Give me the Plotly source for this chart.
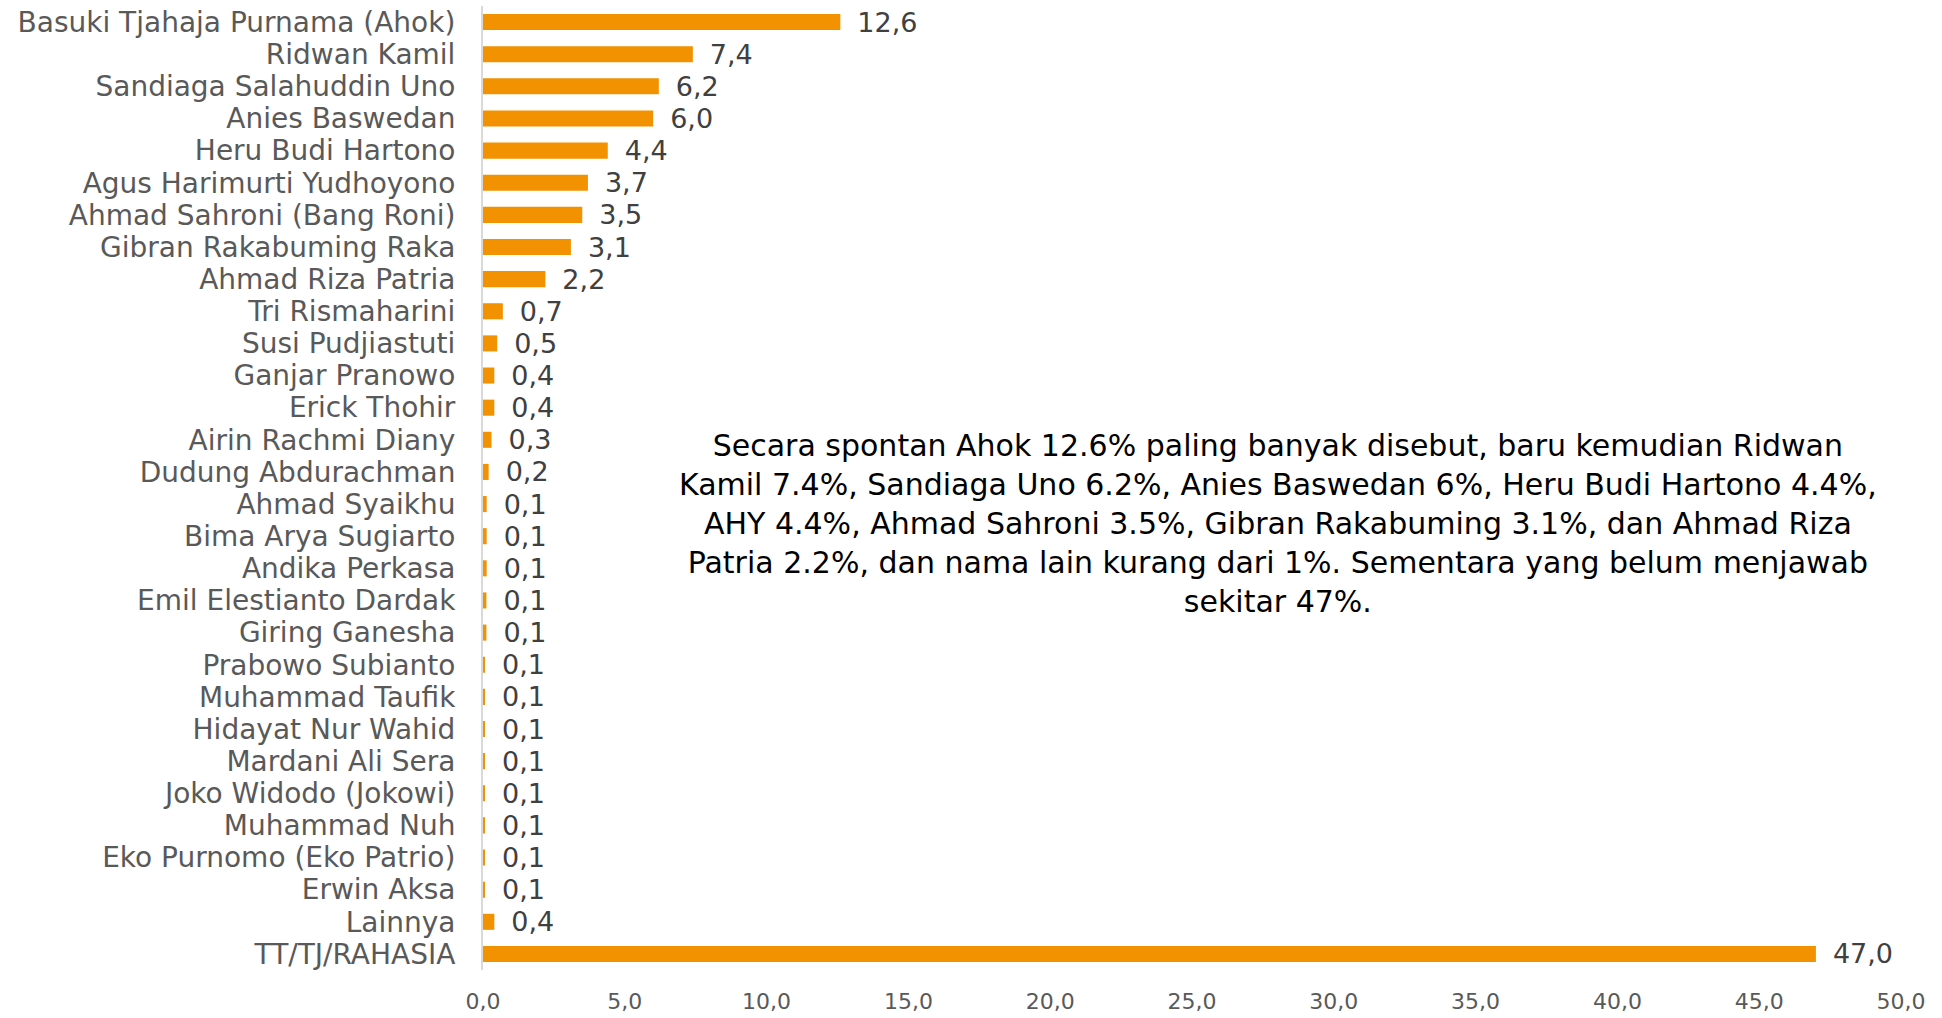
import plotly.graph_objects as go

names = [
    "Basuki Tjahaja Purnama (Ahok)", "Ridwan Kamil", "Sandiaga Salahuddin Uno",
    "Anies Baswedan", "Heru Budi Hartono", "Agus Harimurti Yudhoyono",
    "Ahmad Sahroni (Bang Roni)", "Gibran Rakabuming Raka", "Ahmad Riza Patria",
    "Tri Rismaharini", "Susi Pudjiastuti", "Ganjar Pranowo", "Erick Thohir",
    "Airin Rachmi Diany", "Dudung Abdurachman", "Ahmad Syaikhu",
    "Bima Arya Sugiarto", "Andika Perkasa", "Emil Elestianto Dardak",
    "Giring Ganesha", "Prabowo Subianto", "Muhammad Taufik",
    "Hidayat Nur Wahid", "Mardani Ali Sera", "Joko Widodo (Jokowi)",
    "Muhammad Nuh", "Eko Purnomo (Eko Patrio)", "Erwin Aksa", "Lainnya",
    "TT/TJ/RAHASIA",
]
values = [
    12.6, 7.4, 6.2, 6.0, 4.4, 3.7, 3.5, 3.1, 2.2, 0.7, 0.5, 0.4, 0.4, 0.3, 0.2,
    0.13, 0.13, 0.13, 0.12, 0.12, 0.07, 0.07, 0.07, 0.07, 0.07, 0.06, 0.06, 0.06,
    0.4, 47.0,
]

note = ("Secara spontan Ahok 12.6% paling banyak disebut, baru kemudian Ridwan<br>"
        "Kamil 7.4%, Sandiaga Uno 6.2%, Anies Baswedan 6%, Heru Budi Hartono 4.4%,<br>"
        "AHY 4.4%, Ahmad Sahroni 3.5%, Gibran Rakabuming 3.1%, dan Ahmad Riza<br>"
        "Patria 2.2%, dan nama lain kurang dari 1%. Sementara yang belum menjawab<br>"
        "sekitar 47%.")

FONT = "DejaVu Sans"

L, R, T, B = 483, 41, 6, 48
W, H = 1942, 1018
plot_w = W - L - R
plot_h = H - T - B

fig = go.Figure(go.Bar(
    x=values, y=names, orientation="h",
    marker=dict(color="#F39200", line=dict(width=0)),
    texttemplate="\u00a0\u2009%{x:.1f}",
    textposition="outside",
    constraintext="none",
    cliponaxis=False,
    textfont=dict(family=FONT, size=27, color="#404040"),
    width=0.5,
))

fig.update_layout(
    width=W, height=H,
    margin=dict(l=L, r=R, t=T, b=B),
    paper_bgcolor="white", plot_bgcolor="white",
    separators=",.",
    showlegend=False,
    font=dict(family=FONT),
    xaxis=dict(
        range=[0, 50], dtick=5, tickformat=".1f",
        showgrid=False, zeroline=False, showline=False,
        tickfont=dict(family=FONT, size=22, color="#595959"),
        ticks="", ticklabelstandoff=16, automargin=False,
    ),
    yaxis=dict(
        autorange="reversed",
        tickmode="array", tickvals=names, ticktext=names,
        showgrid=False, zeroline=False,
        showline=True, linecolor="#D9D9D9", linewidth=2,
        tickfont=dict(family=FONT, size=28, color="#595959"),
        ticks="", ticklabelstandoff=20, automargin=False,
    ),
    annotations=[dict(
        text=note, xref="paper", yref="paper",
        x=(1278 - L) / plot_w, y=1 - (523 - T) / plot_h,
        xanchor="center", yanchor="middle", align="center", showarrow=False,
        font=dict(family=FONT, size=30, color="#000000"),
    )],
)

fig.write_html("out.html", config={"displayModeBar": False},
               post_script="document.body.style.margin='0px';")
